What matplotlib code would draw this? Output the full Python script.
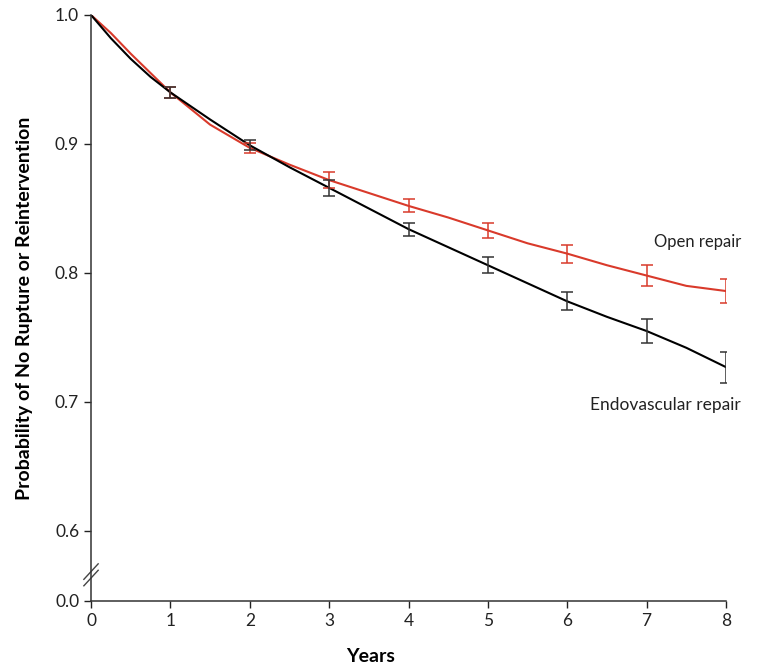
import numpy as np
import matplotlib
matplotlib.use('Agg')
from matplotlib import pyplot as plt

plt.rcParams['font.family'] = ['Lato', 'DejaVu Sans']

# Kaplan-Meier style curves
years = [0, 0.25, 0.5, 0.75, 1, 1.5, 2, 2.5, 3, 3.5, 4, 4.5, 5, 5.5, 6, 6.5, 7, 7.5, 8]
endo = [1.0, 0.982, 0.966, 0.952, 0.940, 0.919, 0.899, 0.882, 0.866, 0.850, 0.834,
        0.820, 0.806, 0.792, 0.778, 0.766, 0.755, 0.742, 0.727]
open_ = [1.0, 0.986, 0.970, 0.955, 0.940, 0.915, 0.897, 0.884, 0.872, 0.862, 0.852,
         0.843, 0.833, 0.823, 0.815, 0.806, 0.798, 0.790, 0.786]

# error bars at whole years
bar_years = [1, 2, 3, 4, 5, 6, 7, 8]
endo_bar = [0.940, 0.899, 0.866, 0.834, 0.806, 0.778, 0.755, 0.727]
endo_err = [0.004, 0.004, 0.006, 0.005, 0.006, 0.007, 0.009, 0.012]
open_bar = [0.940, 0.897, 0.872, 0.852, 0.833, 0.815, 0.798, 0.786]
open_err = [0.004, 0.004, 0.006, 0.005, 0.006, 0.007, 0.008, 0.009]

y_ticks = [0.6, 0.7, 0.8, 0.9, 1.0]
x_ticks = [0, 1, 2, 3, 4, 5, 6, 7, 8]

red = '#d93a2b'
y_zero = 0.5457  # where the "0.0" sits below the axis break

fig = plt.figure(figsize=(7.61, 6.66), dpi=100)
ax = fig.add_axes([0.1196, 0.0976, 0.8344, 0.8799])

ax.plot(years, open_, color=red, lw=1.5)
ax.plot(years, endo, color='black', lw=1.5)
ax.errorbar(bar_years, open_bar, yerr=open_err, fmt='none', ecolor=red, elinewidth=1.1, capsize=4, capthick=1.1)
ax.errorbar(bar_years, endo_bar, yerr=endo_err, fmt='none', ecolor='#333333', elinewidth=1.1, capsize=4, capthick=1.1)

ax.set_xlim(0, 8)
ax.set_ylim(y_zero, 1.0)
ax.set_xticks(x_ticks)
ax.set_yticks([y_zero] + y_ticks)
ax.set_yticklabels(['0.0'] + ['%.1f' % v for v in y_ticks])
ax.tick_params(direction='out', length=5, width=1, labelsize=12.5, colors='#222222')
for s in ['top', 'right']:
    ax.spines[s].set_visible(False)
for s in ['left', 'bottom']:
    ax.spines[s].set_linewidth(1.1)
    ax.spines[s].set_color('#333333')

# axis break marks
yb = 0.566
for off in [-0.0025, 0.0025]:
    ax.plot([-0.09, 0.09], [yb - 0.006 + off, yb + 0.006 + off], color='#444444', lw=1, clip_on=False)

ax.text(8.19, 0.824, 'Open repair', ha='right', va='center', fontsize=12, color='#222222')
ax.text(8.19, 0.698, 'Endovascular repair', ha='right', va='center', fontsize=12.5, color='#222222')

ax.set_xlabel('Years', fontsize=14, fontweight='bold', va='center')
ax.xaxis.set_label_coords(0.44, -0.094)
ax.set_ylabel('Probability of No Rupture or Reintervention', fontsize=14, fontweight='bold', labelpad=16)

fig.savefig('out.png', dpi=100)
